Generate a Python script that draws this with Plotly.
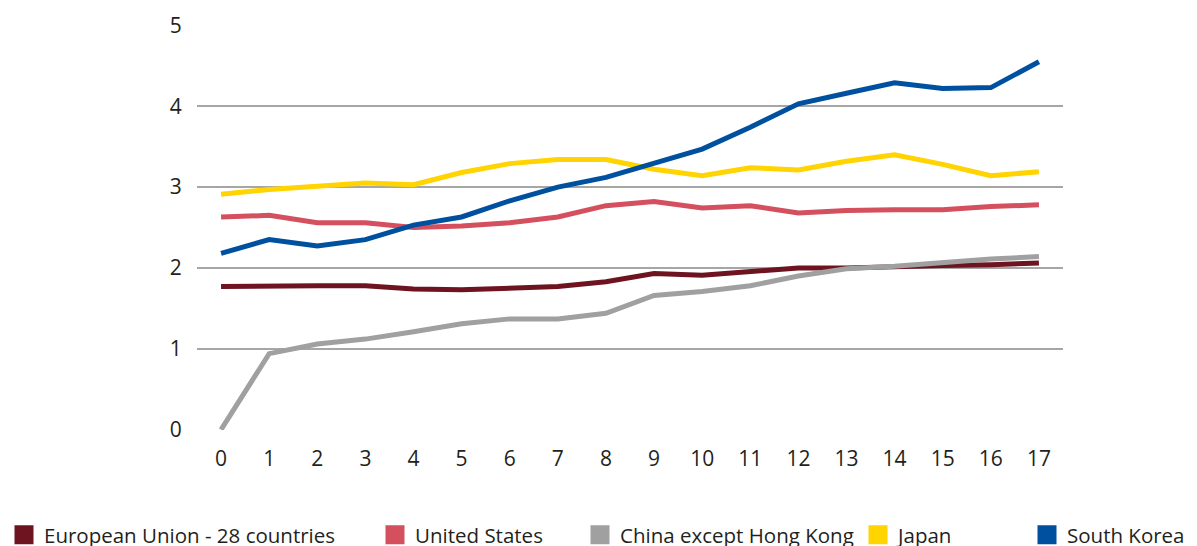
import plotly.graph_objects as go

years = list(range(18))
eu = [1.77, 1.78, 1.78, 1.78, 1.74, 1.73, 1.75, 1.77, 1.83, 1.93, 1.91, 1.95, 2.00, 2.00, 2.02, 2.03, 2.04, 2.06]
us = [2.63, 2.65, 2.56, 2.56, 2.50, 2.52, 2.56, 2.63, 2.77, 2.82, 2.74, 2.77, 2.68, 2.71, 2.72, 2.72, 2.76, 2.78]
china = [0.0, 0.94, 1.06, 1.12, 1.21, 1.31, 1.37, 1.37, 1.44, 1.66, 1.71, 1.78, 1.90, 1.99, 2.02, 2.07, 2.11, 2.14]
japan = [2.91, 2.97, 3.01, 3.05, 3.03, 3.18, 3.29, 3.34, 3.34, 3.22, 3.14, 3.24, 3.21, 3.32, 3.40, 3.28, 3.14, 3.19]
korea = [2.18, 2.35, 2.27, 2.35, 2.53, 2.63, 2.83, 3.00, 3.12, 3.29, 3.47, 3.74, 4.03, 4.16, 4.29, 4.22, 4.23, 4.55]

names = ["European Union - 28 countries", "United States", "China except Hong Kong", "Japan", "South Korea"]
values = [eu, us, china, japan, korea]
colors = ["#6d1420", "#d4505f", "#a0a0a0", "#ffd400", "#0050a0"]

# legend entry square centres (pixels) in the reference
legend_px = [22, 393, 598, 876, 1045]

L, R, T, B = 197, 134, 25, 116
W, H = 1197, 546
pw = W - L - R
ph = H - T - B

fig = go.Figure()
for name, vals, col in zip(names, values, colors):
    fig.add_trace(go.Scatter(x=years, y=vals, mode="lines", name=name,
                             line=dict(color=col, width=5), showlegend=False))

legend_layout = {}
for i, (name, col, px) in enumerate(zip(names, colors, legend_px)):
    key = "legend" if i == 0 else f"legend{i+1}"
    fig.add_trace(go.Scatter(x=[None], y=[None], mode="markers", name=name,
                             marker=dict(symbol="square", size=16, color=col,
                                         line=dict(color=col, width=3)),
                             showlegend=True, legend=key))
    legend_layout[key] = dict(
        orientation="h", x=(px - 18 - L) / pw, xanchor="left",
        y=(T + ph - 535) / ph, yanchor="middle",
        font=dict(size=20.5, family="Open Sans, sans-serif", color="#231f20"),
        bgcolor="rgba(0,0,0,0)", borderwidth=0, itemsizing="trace",
    )

font = "Open Sans, sans-serif"
fig.update_layout(
    width=W, height=H,
    margin=dict(l=L, r=R, t=T, b=B, autoexpand=False),
    paper_bgcolor="white", plot_bgcolor="white",
    font=dict(family=font, size=21, color="#231f20"),
    showlegend=True,
    xaxis=dict(range=[-0.5, 17.5], tickmode="array", tickvals=years,
               ticktext=[str(v) for v in years], showgrid=False, zeroline=False,
               showline=False, ticks="outside", ticklen=10, tickcolor="rgba(0,0,0,0)"),
    yaxis=dict(range=[-0.004, 5.004], tickvals=[0, 1, 2, 3, 4, 5], showgrid=True,
               gridcolor="#a6a6a6", gridwidth=1.5, zeroline=False, showline=False,
               ticks="outside", ticklen=10, tickcolor="rgba(0,0,0,0)"),
    **legend_layout,
)

fig.write_html("out.html", config={"displayModeBar": False},
               post_script="document.body.style.margin='0';document.body.style.padding='0';")
